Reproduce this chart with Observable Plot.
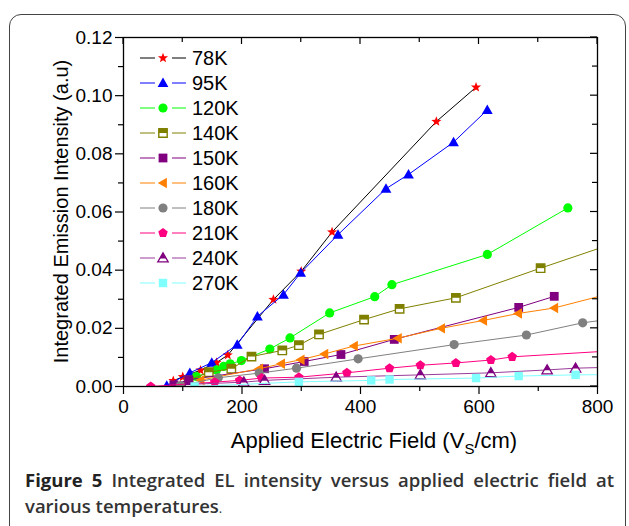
<!DOCTYPE html>
<html><head><meta charset="utf-8">
<script src="https://cdn.jsdelivr.net/npm/d3@7"></script>
<script src="https://cdn.jsdelivr.net/npm/@observablehq/plot@0.6"></script>
<style>
body{margin:0;background:#fff;}
#wrap{position:relative;width:629px;height:526px;overflow:hidden;background:#fff;}
#box{position:absolute;left:9px;top:14px;width:617px;height:560px;border:1.5px solid #444;border-radius:12px;box-sizing:border-box;}
#chart{position:absolute;left:0;top:0;}
#cap{position:absolute;left:25px;top:467px;width:589px;font-family:"Open Sans",sans-serif;font-size:18.5px;font-weight:600;color:#333;line-height:26px;}
#cap .l1{text-align:justify;text-align-last:justify;white-space:nowrap;}
#cap b{font-weight:700;color:#222;}
</style></head><body>
<div id="wrap"><div id="box"></div><div id="chart"></div>
<div id="cap"><div class="l1"><b>Figure 5</b> Integrated EL intensity versus applied electric field at</div><div>various temperatures<span style="font-weight:400;font-size:13px">.</span></div></div>
</div>
<script>
// ---- data (field in V/cm, intensity in a.u.) ----
const temps = ["78K","95K","120K","140K","150K","160K","180K","210K","240K","270K"];
const f78 = [84,100,130,157,176,253,300,352,528,595];
const i78 = [0.0020,0.0033,0.0056,0.0082,0.0108,0.0299,0.0396,0.0531,0.0911,0.1029];
const f95 = [73,112,149,192,226,270,299,362,443,481,557,614];
const i95 = [0.0003,0.0047,0.0082,0.0144,0.0241,0.0316,0.0391,0.0522,0.0680,0.0729,0.0840,0.0951];
const f120 = [123,157,169,180,199,247,281,348,424,453,614,750];
const i120 = [0.0034,0.0057,0.0069,0.0078,0.0089,0.0129,0.0167,0.0253,0.0309,0.0350,0.0454,0.0614];
const f140 = [110,144,182,216,268,296,330,406,466,561,704,820];
const i140 = [0.0021,0.0049,0.0061,0.0103,0.0124,0.0142,0.0179,0.0230,0.0267,0.0305,0.0407,0.0487];
const f150 = [85,110,238,305,367,457,667,727];
const i150 = [0.0006,0.0023,0.0061,0.0086,0.0110,0.0162,0.0272,0.0310];
const f160 = [130,229,266,299,339,389,463,536,607,666,727,820];
const i160 = [0.0022,0.0061,0.0078,0.0092,0.0112,0.0139,0.0166,0.0200,0.0227,0.0251,0.0270,0.0319];
const f180 = [96,160,229,292,396,558,680,775,820];
const i180 = [0.0003,0.0030,0.0046,0.0063,0.0095,0.0144,0.0177,0.0219,0.0231];
const f210 = [46,154,196,233,296,377,449,501,561,620,656,820];
const i210 = [0.0000,0.0015,0.0021,0.0029,0.0032,0.0047,0.0063,0.0073,0.0081,0.0091,0.0102,0.0122];
const f240 = [110,203,238,359,501,620,715,763,820];
const i240 = [0.0007,0.0015,0.0021,0.0032,0.0040,0.0047,0.0057,0.0063,0.0066];
const f270 = [120,296,418,449,595,667,763,820];
const i270 = [0.0000,0.0016,0.0021,0.0024,0.0029,0.0036,0.0040,0.0041];
const xTicks = [0,200,400,600,800];
const yTicks = [0,0.02,0.04,0.06,0.08,0.10,0.12];
const xMinor = [100,300,500,700];
const yMinor = [0.01,0.03,0.05,0.07,0.09,0.11];

// ---- marker shapes (h = half size) ----
const H = s => Math.sqrt(s/Math.PI);
const poly = (c, pts) => { pts.forEach(([x,y],i)=> i?c.lineTo(x,y):c.moveTo(x,y)); c.closePath(); };
const S = {
  star:{draw(c,s){const R=H(s),r=R*0.42,p=[];for(let i=0;i<10;i++){const a=-Math.PI/2+i*Math.PI/5,q=i%2?r:R;p.push([q*Math.cos(a),q*Math.sin(a)]);}poly(c,p);}},
  triUp:{draw(c,s){const h=H(s);poly(c,[[0,-h],[h,0.75*h],[-h,0.75*h]]);}},
  triTop:{draw(c,s){const h=H(s),k=0.62;poly(c,[[0,-h],[h*k,-h+1.75*h*k],[-h*k,-h+1.75*h*k]]);}},
  triLeft:{draw(c,s){const h=H(s);poly(c,[[-h,0],[0.75*h,-h],[0.75*h,h]]);}},
  circle:{draw(c,s){const h=H(s);c.moveTo(h,0);c.arc(0,0,h,0,2*Math.PI);}},
  square:{draw(c,s){const h=H(s);c.rect(-h,-h,2*h,2*h);}},
  sqTop:{draw(c,s){const h=H(s);c.rect(-h,-h,2*h,h);}},
  pent:{draw(c,s){const h=H(s),p=[];for(let i=0;i<5;i++){const a=-Math.PI/2+i*2*Math.PI/5;p.push([h*Math.cos(a),h*Math.sin(a)]);}poly(c,p);}}
};

const series = [
  {f:f78,i:i78,line:"#000000",layers:[{sym:S.star,r:5.3,fill:"#ff0000"}]},
  {f:f95,i:i95,line:"#0000ff",layers:[{sym:S.triUp,r:5.4,fill:"#0000ff"}]},
  {f:f120,i:i120,line:"#00ff00",layers:[{sym:S.circle,r:4.6,fill:"#00ff00"}]},
  {f:f140,i:i140,line:"#808000",layers:[{sym:S.square,r:4.2,fill:"#fff",stroke:"#808000",sw:1.4},{sym:S.sqTop,r:4.2,fill:"#808000"}]},
  {f:f150,i:i150,line:"#800080",layers:[{sym:S.square,r:4.4,fill:"#800080"}]},
  {f:f160,i:i160,line:"#ff8000",layers:[{sym:S.triLeft,r:5.2,fill:"#ff8000"}]},
  {f:f180,i:i180,line:"#808080",layers:[{sym:S.circle,r:4.6,fill:"#808080"}]},
  {f:f210,i:i210,line:"#ff0080",layers:[{sym:S.pent,r:5.0,fill:"#ff0080"}]},
  {f:f240,i:i240,line:"#9a3c9a",layers:[{sym:S.triUp,r:5.2,fill:"#fff",stroke:"#800080",sw:1.3},{sym:S.triTop,r:5.2,fill:"#800080"}]},
  {f:f270,i:i270,line:"#80ffff",layers:[{sym:S.square,r:4.2,fill:"#80ffff"}]}
];

const marks = [];
series.forEach(s => {
  const d = s.f.map((f,k)=>({f, v:s.i[k]}));
  marks.push(Plot.line(d,{x:"f",y:"v",stroke:s.line,strokeWidth:1,clip:true}));
  s.layers.forEach(L => marks.push(Plot.dot(d,{x:"f",y:"v",symbol:L.sym,r:L.r,fill:L.fill,stroke:L.stroke||"none",strokeWidth:L.sw||0,clip:true})));
});

const plot = Plot.plot({
  width:629, height:456,
  marginLeft:123, marginRight:32, marginTop:37, marginBottom:70,
  style:{fontFamily:"'Liberation Sans', Arial, sans-serif", fontSize:"19px", color:"#000", background:"transparent", overflow:"visible"},
  x:{domain:[0,800]}, y:{domain:[0,0.12]},
  marks:[
    ...marks,
    Plot.frame({stroke:"#000", strokeWidth:1.3}),
    Plot.axisX(xTicks,{anchor:"bottom", tickSize:8, tickPadding:5, label:null, tickFormat:d=>String(d), strokeWidth:1.2}),
    Plot.axisX(xMinor,{anchor:"bottom", tickSize:5, label:null, tickFormat:()=>"", strokeWidth:1.2}),
    Plot.axisY(yTicks,{anchor:"left", tickSize:8, tickPadding:3, label:null, tickFormat:d=>d.toFixed(2), strokeWidth:1.2}),
    Plot.axisY(yMinor,{anchor:"left", tickSize:5, label:null, tickFormat:()=>"", strokeWidth:1.2})
  ]
});
document.getElementById("chart").appendChild(plot);

// ---- inward ticks on top/right, axis titles and legend ----
const svg = d3.select(plot);
const xs = plot.scale("x"), ys = plot.scale("y");
const x0 = xs.range[0], x1 = xs.range[1], yb = ys.range[0], yt = ys.range[1];
const tk = svg.append("g").attr("stroke","#000").attr("stroke-width",1.2);
xTicks.forEach(v => tk.append("line").attr("x1",xs.apply(v)).attr("x2",xs.apply(v)).attr("y1",yt).attr("y2",yt+7));
xMinor.forEach(v => tk.append("line").attr("x1",xs.apply(v)).attr("x2",xs.apply(v)).attr("y1",yt).attr("y2",yt+5));
yTicks.forEach(v => tk.append("line").attr("y1",ys.apply(v)).attr("y2",ys.apply(v)).attr("x1",x1).attr("x2",x1-7));
yMinor.forEach(v => tk.append("line").attr("y1",ys.apply(v)).attr("y2",ys.apply(v)).attr("x1",x1).attr("x2",x1-5));

const font = "'Liberation Sans', Arial, sans-serif";
const xl = svg.append("text").attr("x",(x0+x1)/2+14).attr("y",yb+62).attr("text-anchor","middle")
  .attr("font-family",font).attr("font-size",22).attr("fill","#000");
xl.append("tspan").text("Applied Electric Field (V");
xl.append("tspan").attr("font-size",15).attr("dy",6).text("S");
xl.append("tspan").attr("dy",-6).text("/cm)");
svg.append("text").attr("transform",`translate(${x0-55},${(yb+yt)/2}) rotate(-90)`).attr("text-anchor","middle")
  .attr("font-family",font).attr("font-size",20).attr("fill","#000").text("Integrated Emission Intensity (a.u)");

const lg = svg.append("g");
series.forEach((s,k) => {
  const cy = yt + 21 + k*25, cx = x0 + 40;
  lg.append("line").attr("x1",x0+17).attr("x2",x0+32).attr("y1",cy).attr("y2",cy).attr("stroke",s.line).attr("stroke-width",1);
  lg.append("line").attr("x1",x0+49).attr("x2",x0+63).attr("y1",cy).attr("y2",cy).attr("stroke",s.line).attr("stroke-width",1);
  s.layers.forEach(L => {
    const r = L.r;
    lg.append("path").attr("d", d3.symbol(L.sym, Math.PI*r*r)()).attr("transform",`translate(${cx},${cy})`)
      .attr("fill",L.fill).attr("stroke",L.stroke||"none").attr("stroke-width",L.sw||0);
  });
  lg.append("text").attr("x",x0+69).attr("y",cy+7).attr("text-anchor","start").attr("font-family",font).attr("font-size",20).attr("fill","#000").text(temps[k]);
});
</script>
</body></html>
